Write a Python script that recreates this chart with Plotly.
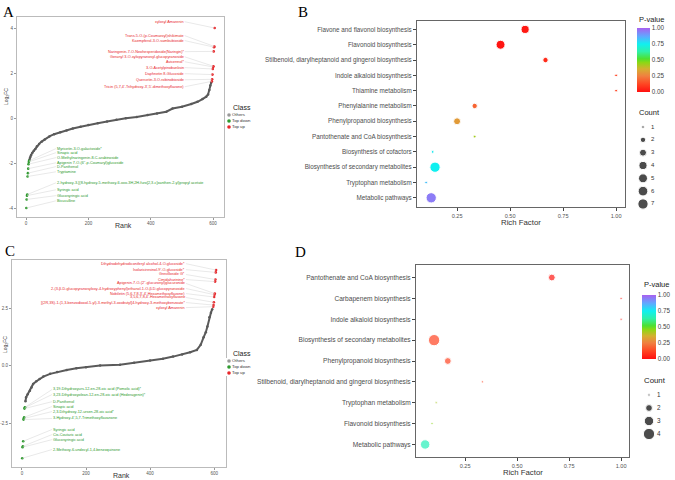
import numpy as np
import plotly.graph_objects as go

W, H = 675, 480
FONT = "Liberation Sans"

# ---------------- Panel A data ----------------
a_other_rank = [11, 13, 16, 20, 25, 30, 35, 42, 50, 60, 75, 90, 110, 130, 150, 175, 200, 230, 260, 290,
                320, 355, 390, 420, 450, 470, 500, 530, 550, 566, 578, 584, 588, 591, 594]
a_other_fc = [-1.85, -1.75, -1.65, -1.55, -1.45, -1.38, -1.25, -1.15, -1.05, -0.95, -0.82, -0.72, -0.63,
              -0.55, -0.47, -0.39, -0.31, -0.23, -0.16, -0.08, -0.01, 0.05, 0.13, 0.2, 0.28, 0.42, 0.5,
              0.62, 0.72, 0.84, 0.95, 1.05, 1.25, 1.45, 1.58]
a_down_names = ["Myricetin-3-O-galactoside*", "Sinapic acid", "O-Methylnaringenin-8-C-arabinoside",
                "Apigenin 7-O-(6''-p-Coumaryl)glucoside", "D-Panthenol", "Tryptamine",
                "2-hydroxy-3-[(8-hydroxy-5-methoxy-6-oxo-3H,2H-furo[2,3-c]xanthen-2-yl)propyl acetate",
                "Syringic acid", "Glucosyringic acid", "Bicuculline"]
a_down_rank = [10, 9, 8, 7, 6, 5, 4, 3, 2, 1]
a_down_fc = [-1.9, -1.95, -2.05, -2.25, -2.45, -2.6, -3.4, -3.45, -3.62, -4.0]
a_up_names = ["xylosyl Amarenin", "Trans-5-O-(p-Coumaroyl)shikimate", "Kaempferol-3-O-sambubioside",
              "Naringenin-7-O-Neohesperidoside(Naringin)*", "Geranyl 3-O-xylopyranosyl-glucopyranoside",
              "Avicennol*", "3-O-Acetylpinobanksin", "Daphnetin 8-Glucoside",
              "Quercetin-3-O-robinobioside", "Tricin (5,7,4'-Trihydroxy-3',5'-dimethoxyflavone)"]
a_up_rank = [605, 604, 603, 602, 601, 600, 599, 598, 597, 596]
a_up_fc = [4.0, 3.18, 3.15, 2.96, 2.3, 2.27, 2.18, 1.93, 1.72, 1.63]
# label placement (layout)
a_up_lab_y = [4.28, 3.66, 3.44, 2.95, 2.72, 2.5, 2.24, 1.97, 1.7, 1.39]
a_down_lab_y = [-1.36, -1.54, -1.76, -1.99, -2.16, -2.39, -2.88, -3.19, -3.45, -3.68]

# ---------------- Panel C data ----------------
c_other_rank = [11, 13, 18, 25, 30, 35, 45, 55, 67, 88, 110, 140, 170, 200, 244, 306, 350, 400, 440, 472,
                500, 525, 546, 558, 567, 574, 579, 585, 590, 594]
c_other_fc = [-1.55, -1.38, -1.25, -1.09, -0.95, -0.8, -0.68, -0.58, -0.48, -0.36, -0.28, -0.19, -0.12,
              -0.07, 0.0, 0.04, 0.12, 0.22, 0.3, 0.39, 0.48, 0.58, 0.68, 0.9, 1.23, 1.45, 1.7, 2.1, 2.3, 2.45]
c_down_names = ["3,19-Dihydroxyurs-12-en-28-oic acid (Pomolic acid)*",
                "3,23-Dihydroxyolean-12-en-28-oic acid (Hederagenin)*", "D-Panthenol", "Sinapic acid",
                "2,3-Dihydroxy-12-ursen-28-oic acid*", "3-Hydroxy-4',5,7-Trimethoxyflavanone",
                "Syringic acid", "Cis-Coutaric acid", "Glucosyringic acid",
                "2-Methoxy-6-undecyl-1,4-benzoquinone"]
c_down_rank = [10, 9, 8, 7, 6, 5, 4, 3, 2, 1]
c_down_fc = [-1.81, -1.83, -1.87, -2.25, -2.3, -2.35, -3.29, -3.51, -3.55, -4.03]
c_up_names = ["Dihydrodehydrodiconiferyl alcohol-4-O-glucoside*", "Isolariciresinol-9'-O-glucoside*",
              "Grevilloside G*", "Cimidahurinine*", "Apigenin-7-O-(2''-glucuronyl)glucuronide",
              "2-(3-β-D-glucopyranosyloxy-4-hydroxyphenyl)ethanol-1-O-β-D-glucopyranoside",
              "Nobiletin (5,6,7,8,3',4'-Hexamethoxyflavone)", "3,5,6,7,8,4'-Hexamethoxyflavone",
              "[(2R,3S)-1-(1,3-benzodioxol-5-yl)-3-methyl-3-oxobutyl]4-hydroxy-3-methoxybenzoate*",
              "xylosyl Amarenin"]
c_up_rank = [606, 605, 604, 603, 602, 601, 600, 599, 598, 597]
c_up_fc = [4.15, 4.05, 3.74, 3.65, 3.13, 3.08, 2.98, 2.75, 2.63, 2.56]
c_up_lab_y = [4.43, 4.17, 3.96, 3.74, 3.57, 3.35, 3.13, 2.96, 2.74, 2.52]
c_down_lab_y = [-1.04, -1.26, -1.57, -1.78, -2.0, -2.3, -2.78, -3.0, -3.22, -3.65]

class_names = ["Others", "Top down", "Top up"]
class_colors = ["#999999", "#2e9a2e", "#e8262a"]

# ---------------- Panel B data ----------------
b_path = ["Flavone and flavonol biosynthesis", "Flavonoid biosynthesis",
          "Stilbenoid, diarylheptanoid and gingerol biosynthesis", "Indole alkaloid biosynthesis",
          "Thiamine metabolism", "Phenylalanine metabolism", "Phenylpropanoid biosynthesis",
          "Pantothenate and CoA biosynthesis", "Biosynthesis of cofactors",
          "Biosynthesis of secondary metabolites", "Tryptophan metabolism", "Metabolic pathways"]
b_rich = [0.571, 0.455, 0.667, 1.0, 1.0, 0.333, 0.25, 0.333, 0.135, 0.146, 0.104, 0.128]
b_p = [0.02, 0.01, 0.06, 0.12, 0.12, 0.19, 0.31, 0.43, 0.76, 0.75, 0.83, 0.95]
b_count = [4, 5, 2, 1, 1, 2, 3, 1, 1, 7, 1, 7]

# ---------------- Panel D data ----------------
d_path = ["Pantothenate and CoA biosynthesis", "Carbapenem biosynthesis", "Indole alkaloid biosynthesis",
          "Biosynthesis of secondary metabolites", "Phenylpropanoid biosynthesis",
          "Stilbenoid, diarylheptanoid and gingerol biosynthesis", "Tryptophan metabolism",
          "Flavonoid biosynthesis", "Metabolic pathways"]
d_rich = [0.667, 1.0, 1.0, 0.101, 0.167, 0.333, 0.111, 0.091, 0.058]
d_p = [0.02, 0.03, 0.03, 0.12, 0.12, 0.12, 0.42, 0.46, 0.66]
d_count = [2, 1, 1, 4, 2, 1, 1, 1, 3]

b_count_levels = [1, 2, 3, 4, 5, 6, 7]
d_count_levels = [1, 2, 3, 4]
p_ticks = [0, 0.25, 0.5, 0.75, 1.0]

colorscale = [[0, "#ff1010"], [0.12, "#ff4422"], [0.25, "#f08040"], [0.36, "#d4b030"],
              [0.46, "#8cd814"], [0.52, "#4ee030"], [0.63, "#30f0a8"], [0.75, "#10f0f0"],
              [0.87, "#60a8ff"], [1.0, "#a860f0"]]


def b_size(c):
    return 2.7 + 7.6 * np.log(np.array(c, dtype=float)) / np.log(7)


def d_size(c):
    return 2.3 + 9.0 * np.log(np.array(c, dtype=float)) / np.log(4)


def px(x):
    return x / W


def py(y):
    return 1 - y / H


fig = go.Figure()

# ---- Panel A traces ----
fig.add_trace(go.Scatter(x=a_other_rank, y=a_other_fc, mode="lines+markers", xaxis="x", yaxis="y",
                         line=dict(color="#5a5a5a", width=2), marker=dict(size=2.5, color="#5a5a5a"),
                         showlegend=False))
fig.add_trace(go.Scatter(x=a_down_rank, y=a_down_fc, mode="markers", xaxis="x", yaxis="y",
                         marker=dict(size=2.6, color=class_colors[1]), showlegend=False))
fig.add_trace(go.Scatter(x=a_up_rank, y=a_up_fc, mode="markers", xaxis="x", yaxis="y",
                         marker=dict(size=2.6, color=class_colors[2]), showlegend=False))
# ---- Panel C traces ----
fig.add_trace(go.Scatter(x=c_other_rank, y=c_other_fc, mode="lines+markers", xaxis="x3", yaxis="y3",
                         line=dict(color="#5a5a5a", width=2), marker=dict(size=2.5, color="#5a5a5a"),
                         showlegend=False))
fig.add_trace(go.Scatter(x=c_down_rank, y=c_down_fc, mode="markers", xaxis="x3", yaxis="y3",
                         marker=dict(size=2.6, color=class_colors[1]), showlegend=False))
fig.add_trace(go.Scatter(x=c_up_rank, y=c_up_fc, mode="markers", xaxis="x3", yaxis="y3",
                         marker=dict(size=2.6, color=class_colors[2]), showlegend=False))

# ---- Panel B / D bubbles ----
fig.add_trace(go.Scatter(x=b_rich, y=b_path, mode="markers", xaxis="x2", yaxis="y2",
                         marker=dict(size=b_size(b_count), color=b_p, coloraxis="coloraxis", opacity=1),
                         showlegend=False))
fig.add_trace(go.Scatter(x=d_rich, y=d_path, mode="markers", xaxis="x4", yaxis="y4",
                         marker=dict(size=d_size(d_count), color=d_p, coloraxis="coloraxis2"),
                         showlegend=False))

# ---- Class legends (mini axes) ----
for xa, ya in (("x5", "y5"), ("x6", "y6")):
    fig.add_trace(go.Scatter(x=[5] * 3, y=list(range(3)), mode="markers", xaxis=xa, yaxis=ya,
                             marker=dict(size=3.6, color=class_colors), showlegend=False))
    fig.add_trace(go.Scatter(x=[8] * 3, y=list(range(3)), mode="text", text=class_names,
                             textposition="middle right", xaxis=xa, yaxis=ya,
                             textfont=dict(size=4.3, color="#333333", family=FONT), showlegend=False))

# ---- Count legends (mini axes) ----
fig.add_trace(go.Scatter(x=[13] * len(b_count_levels), y=b_count_levels, mode="markers", xaxis="x7",
                         yaxis="y7", marker=dict(size=b_size(b_count_levels), color="black"),
                         showlegend=False))
fig.add_trace(go.Scatter(x=[21] * len(b_count_levels), y=b_count_levels, mode="text",
                         text=[str(c) for c in b_count_levels], textposition="middle right",
                         xaxis="x7", yaxis="y7", textfont=dict(size=6, color="#333333", family=FONT),
                         showlegend=False))
fig.add_trace(go.Scatter(x=[19] * len(d_count_levels), y=d_count_levels, mode="markers", xaxis="x8",
                         yaxis="y8", marker=dict(size=d_size(d_count_levels), color="black"),
                         showlegend=False))
fig.add_trace(go.Scatter(x=[27] * len(d_count_levels), y=d_count_levels, mode="text",
                         text=[str(c) for c in d_count_levels], textposition="middle right",
                         xaxis="x8", yaxis="y8", textfont=dict(size=6.3, color="#333333", family=FONT),
                         showlegend=False))

annotations = []


def label(xref, yref, x, y, ax, ay, text, color, anchor):
    annotations.append(dict(x=x, y=y, ax=ax, ay=ay, xref=xref, yref=yref, axref=xref, ayref=yref,
                            text=text, showarrow=True, arrowhead=0, arrowwidth=0.5,
                            arrowcolor="#d2d2d2", xanchor=anchor, yanchor="middle", borderpad=0,
                            font=dict(size=3.8, color=color, family=FONT)))


for n, r, v, ly in zip(a_up_names, a_up_rank, a_up_fc, a_up_lab_y):
    label("x", "y", r, v, 509, ly, n, "#e8262a", "right")
for n, r, v, ly in zip(a_down_names, a_down_rank, a_down_fc, a_down_lab_y):
    label("x", "y", r, v, 96, ly, n, "#2e9a2e", "left")
for n, r, v, ly in zip(c_up_names, c_up_rank, c_up_fc, c_up_lab_y):
    label("x3", "y3", r, v, 512, ly, n, "#e8262a", "right")
for n, r, v, ly in zip(c_down_names, c_down_rank, c_down_fc, c_down_lab_y):
    label("x3", "y3", r, v, 94, ly, n, "#2e9a2e", "left")


def note(x, y, text, size, color="#222222", family=FONT, xanchor="center", angle=0):
    annotations.append(dict(x=px(x), y=py(y), xref="paper", yref="paper", text=text, showarrow=False,
                            xanchor=xanchor, yanchor="middle", textangle=angle,
                            font=dict(size=size, color=color, family=family)))


# panel letters
note(8, 12, "A", 15, "#000000", "Liberation Serif")
note(303, 12, "B", 15, "#000000", "Liberation Serif")
note(10, 251, "C", 15, "#000000", "Liberation Serif")
note(300, 252, "D", 15, "#000000", "Liberation Serif")
# axis titles
note(123, 225, "Rank", 7, "#333333")
note(121, 475, "Rank", 7, "#333333")
note(6, 97, "Log<sub>2</sub>FC", 5, "#333333", angle=-90)
note(5, 345, "Log<sub>2</sub>FC", 5, "#333333", angle=-90)
note(521, 222, "Rich Factor", 7.8, "#333333")
note(523, 472, "Rich Factor", 7.8, "#333333")
# legend titles
note(231, 107, "Class", 7, "#222222", xanchor="left")
note(231, 353, "Class", 7, "#222222", xanchor="left")
note(637, 20, "P-value", 7.5, "#222222", xanchor="left")
note(642, 284, "P-value", 7.5, "#222222", xanchor="left")
note(637, 113, "Count", 7.5, "#222222", xanchor="left")
note(642, 380, "Count", 7.8, "#222222", xanchor="left")

rank_axis = dict(showgrid=False, zeroline=False, showline=True, mirror=True, linecolor="#bbbbbb",
                 linewidth=1, ticks="outside", ticklen=2, tickcolor="#999999", tickwidth=0.6,
                 tickfont=dict(size=4.5, color="#555555", family=FONT))
rich_axis = dict(showgrid=False, zeroline=False, showline=True, mirror=True, linecolor="#666666",
                 linewidth=1, ticks="outside", ticklen=3, tickcolor="#444444", tickwidth=0.8,
                 tickfont=dict(size=5.6, color="#555555", family=FONT))


def cat_axis(size):
    d = dict(rich_axis)
    d["tickfont"] = dict(size=size, color="#4d4d4d", family=FONT)
    return d


def mini(domx, domy, rx, ry):
    return (dict(domain=[px(domx[0]), px(domx[1])], range=rx, visible=False, fixedrange=True),
            dict(domain=[py(domy[1]), py(domy[0])], range=ry, visible=False, fixedrange=True))


x5, y5 = mini((224, 260), (112, 130), [0, 36], [2.5, -0.5])
x6, y6 = mini((224, 260), (358, 376), [0, 36], [2.5, -0.5])
x7, y7 = mini((630, 670), (120.6, 210.4), [0, 40], [7.5, 0.5])
x8, y8 = mini((630, 670), (388.5, 440.5), [0, 40], [4.5, 0.5])

fig.update_layout(
    width=W, height=H, margin=dict(l=0, r=0, t=0, b=0), paper_bgcolor="white", plot_bgcolor="white",
    font=dict(family=FONT),
    xaxis=dict(rank_axis, domain=[px(17), px(224)], range=[-29, 635], tickvals=[0, 200, 400, 600],
               anchor="y"),
    yaxis=dict(rank_axis, domain=[py(217), py(17)], range=[-4.4, 4.49], tickvals=[-4, -2, 0, 2, 4],
               ticktext=["-4", "-2", "0", "2", "4"], anchor="x"),
    xaxis3=dict(rank_axis, domain=[px(12), px(226)], range=[-31, 637], tickvals=[0, 200, 400, 600],
                anchor="y3"),
    yaxis3=dict(rank_axis, domain=[py(467), py(260)], range=[-4.41, 4.59], tickvals=[-2.5, 0, 2.5],
                ticktext=["-2.5", "0.0", "2.5"], anchor="x3"),
    xaxis2=dict(rich_axis, domain=[px(417), px(625)], range=[0.061, 1.042], tickvals=p_ticks[1:],
                ticktext=["%.2f" % t for t in p_ticks[1:]], anchor="y2"),
    yaxis2=dict(cat_axis(6.3), domain=[py(207), py(21)], type="category",
                categoryorder="array", categoryarray=b_path[::-1], range=[-0.6, 11.55], anchor="x2"),
    xaxis4=dict(rich_axis, domain=[px(416), px(629)], range=[0.014, 1.038], tickvals=p_ticks[1:],
                ticktext=["%.2f" % t for t in p_ticks[1:]], anchor="y4"),
    yaxis4=dict(cat_axis(6.6), domain=[py(457), py(265)], type="category",
                categoryorder="array", categoryarray=d_path[::-1], range=[-0.6, 8.6], anchor="x4"),
    xaxis5=dict(x5, anchor="y5"), yaxis5=dict(y5, anchor="x5"),
    xaxis6=dict(x6, anchor="y6"), yaxis6=dict(y6, anchor="x6"),
    xaxis7=dict(x7, anchor="y7"), yaxis7=dict(y7, anchor="x7"),
    xaxis8=dict(x8, anchor="y8"), yaxis8=dict(y8, anchor="x8"),
    coloraxis=dict(colorscale=colorscale, cmin=0, cmax=1,
                   colorbar=dict(x=px(637), xanchor="left", y=py(60), yanchor="middle", len=64,
                                 lenmode="pixels", thickness=13, thicknessmode="pixels", xpad=0,
                                 ypad=0, outlinewidth=0, ticks="", tickvals=p_ticks,
                                 ticktext=["%.2f" % t for t in p_ticks],
                                 tickfont=dict(size=6.3, color="#444444", family=FONT))),
    coloraxis2=dict(colorscale=colorscale, cmin=0, cmax=1,
                    colorbar=dict(x=px(642), xanchor="left", y=py(327), yanchor="middle", len=64,
                                  lenmode="pixels", thickness=14, thicknessmode="pixels", xpad=0,
                                  ypad=0, outlinewidth=0, ticks="", tickvals=p_ticks,
                                  ticktext=["%.2f" % t for t in p_ticks],
                                  tickfont=dict(size=6.3, color="#444444", family=FONT))),
    annotations=annotations,
    showlegend=False,
)

fig.write_html("out.html", config={"displayModeBar": False})
